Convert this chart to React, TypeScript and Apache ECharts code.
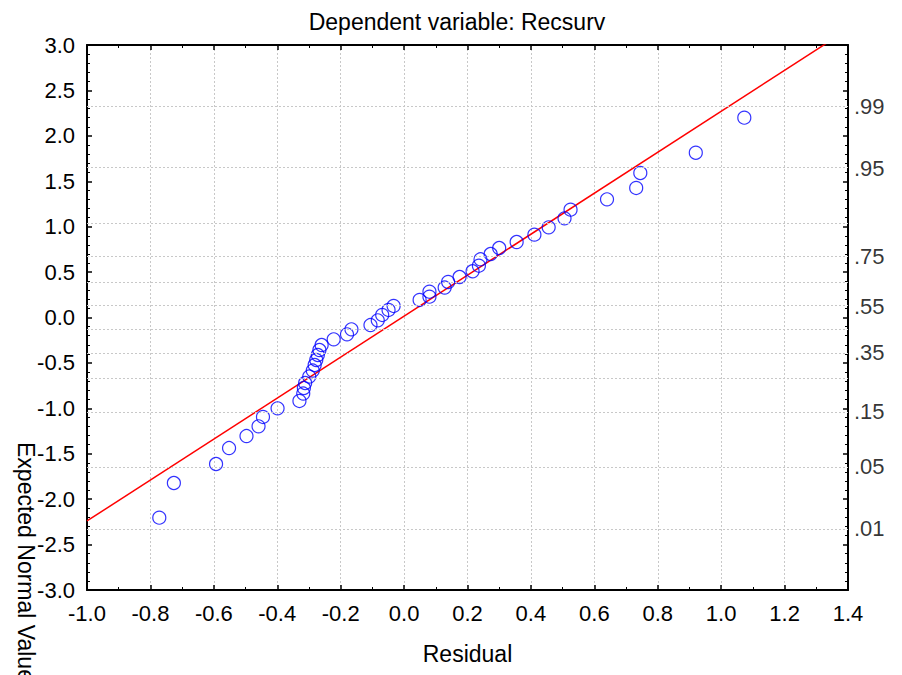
import React, { useEffect, useRef } from "react";
import * as echarts from "echarts";

const titleText = "Dependent variable: Recsurv";
const xName = "Residual";
const yName = "Expected Normal Value";

const residuals = [
  -0.772, -0.726, -0.593, -0.552, -0.497, -0.459, -0.445, -0.399, -0.330, -0.318,
  -0.316, -0.312, -0.299, -0.288, -0.282, -0.277, -0.272, -0.267, -0.260, -0.222,
  -0.180, -0.166, -0.106, -0.083, -0.069, -0.049, -0.033, 0.049, 0.080, 0.080,
  0.128, 0.139, 0.175, 0.216, 0.236, 0.241, 0.273, 0.300, 0.355, 0.411,
  0.456, 0.506, 0.525, 0.640, 0.732, 0.745, 0.920, 1.073,
];
const expected = [
  -2.204, -1.822, -1.613, -1.437, -1.305, -1.198, -1.095, -1.000, -0.919, -0.837,
  -0.776, -0.721, -0.650, -0.584, -0.523, -0.468, -0.413, -0.358, -0.303, -0.240,
  -0.185, -0.130, -0.083, -0.031, 0.028, 0.083, 0.127, 0.193, 0.229, 0.284,
  0.330, 0.391, 0.446, 0.509, 0.570, 0.641, 0.699, 0.765, 0.831, 0.912,
  0.993, 1.092, 1.187, 1.301, 1.426, 1.591, 1.814, 2.200,
];

const fitX = [-1.0, 1.4];
const fitY = [-2.24, 3.172];

// probability scale (right axis)
const gridZ = [-2.326, -1.645, -1.036, -0.674, -0.385, -0.126, 0.126, 0.385, 0.674, 1.036, 1.645, 2.326];
const probLabels = [".01", ".05", ".15", ".35", ".55", ".75", ".95", ".99"];
const probZ = [-2.326, -1.645, -1.036, -0.385, 0.126, 0.674, 1.645, 2.326];

const FONT = "'Liberation Sans', Arial, sans-serif";
const FS = 22;
const FT = 23;

export default function App() {
  const ref = useRef<HTMLDivElement>(null);
  useEffect(() => {
    if (!ref.current) return;
    const chart = echarts.init(ref.current, null, { renderer: "svg" });
    const gridLine = { color: "#c8c8c8", type: [2, 2] as any, width: 1 };
    const axisLine = { show: true, onZero: false, lineStyle: { color: "#000", width: 2 } };
    const tick = { show: true, inside: true, length: 5, lineStyle: { color: "#000", width: 1.5 } };
    const minor = (n: number) => ({ show: true, splitNumber: n, length: 3, lineStyle: { color: "#000", width: 1 } });
    chart.setOption({
      animation: false,
      backgroundColor: "#fff",
      textStyle: { fontFamily: FONT },
      title: {
        text: titleText,
        left: 452,
        textAlign: "center",
        top: 5,
        textStyle: { fontFamily: FONT, fontSize: FT, fontWeight: "normal", color: "#000" },
      },
      grid: { left: 87, right: 54, top: 45, bottom: 85, containLabel: false },
      xAxis: [
        {
          type: "value",
          min: -1.0,
          max: 1.4,
          interval: 0.2,
          position: "bottom",
          name: xName,
          nameLocation: "middle",
          nameGap: 52,
          nameTextStyle: { fontFamily: FONT, fontSize: FT, color: "#000" },
          axisLine,
          axisTick: tick,
          minorTick: minor(2),
          axisLabel: {
            fontFamily: FONT,
            fontSize: FS,
            color: "#000",
            margin: 12,
            formatter: (v: number) => v.toFixed(1),
          },
          splitLine: { show: true, lineStyle: gridLine },
        },
        {
          type: "value",
          min: -1.0,
          max: 1.4,
          interval: 0.2,
          position: "top",
          axisLine,
          axisTick: tick,
          minorTick: minor(2),
          axisLabel: { show: false },
          splitLine: { show: false },
        },
      ],
      yAxis: [
        {
          type: "value",
          min: -3,
          max: 3,
          interval: 0.5,
          position: "left",
          axisLine,
          axisTick: tick,
          minorTick: minor(5),
          axisLabel: {
            fontFamily: FONT,
            fontSize: FS,
            color: "#000",
            margin: 12,
            formatter: (v: number) => v.toFixed(1),
          },
          splitLine: { show: false },
        },
        {
          type: "value",
          min: -3,
          max: 3,
          interval: 0.5,
          position: "right",
          axisLine,
          axisTick: tick,
          minorTick: minor(5),
          axisLabel: { show: false },
          splitLine: { show: false },
        },
      ],
      graphic: [
        {
          type: "text",
          x: 26,
          y: 442,
          rotation: -Math.PI / 2,
          style: {
            text: yName,
            fontFamily: FONT,
            fontSize: FT,
            fill: "#000",
            textAlign: "left",
            textVerticalAlign: "middle",
          },
        },
      ],
      series: [
        {
          type: "scatter",
          name: "grid",
          xAxisIndex: 0,
          yAxisIndex: 1,
          data: probZ.map((z) => [1.4, z]),
          symbolSize: 0,
          clip: false,
          silent: true,
          label: {
            show: true,
            position: "right",
            distance: 6,
            fontFamily: FONT,
            fontSize: FS,
            color: "#000",
            formatter: (p: any) => probLabels[p.dataIndex],
          },
          markLine: {
            silent: true,
            symbol: "none",
            label: { show: false },
            lineStyle: gridLine,
            data: gridZ.map((z) => ({ yAxis: z })),
          },
          z: 1,
        },
        {
          type: "line",
          name: "fit",
          data: fitX.map((x, i) => [x, fitY[i]]),
          showSymbol: false,
          symbol: "none",
          clip: true,
          lineStyle: { color: "#ff0000", width: 1.5 },
          z: 3,
        },
        {
          type: "scatter",
          name: "residuals",
          data: residuals.map((x, i) => [x, expected[i]]),
          symbol: "circle",
          symbolSize: 13,
          itemStyle: { color: "rgba(0,0,0,0)", borderColor: "#0000ff", borderWidth: 1.2 },
          z: 4,
        },
      ],
    });
    return () => chart.dispose();
  }, []);
  return <div ref={ref} style={{ width: 902, height: 675, position: "fixed", left: 0, top: 0 }} />;
}
